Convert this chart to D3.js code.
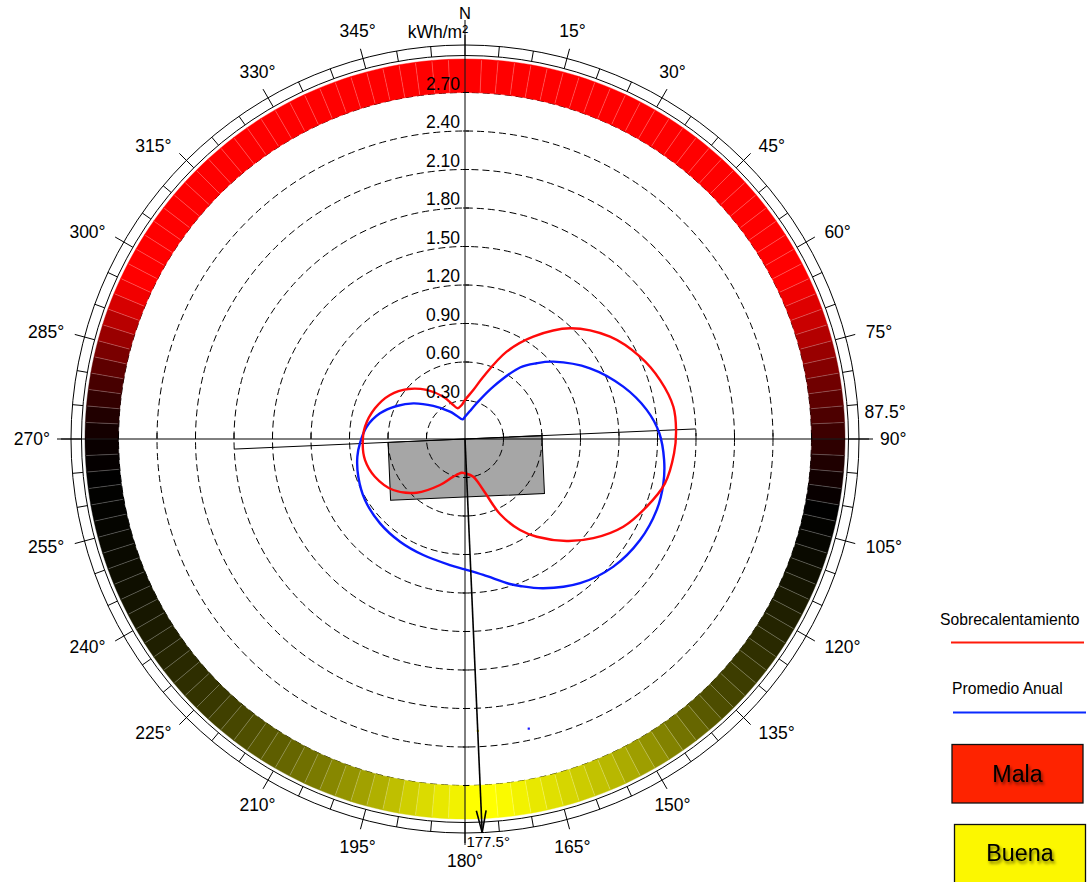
<!DOCTYPE html>
<html>
<head>
<meta charset="utf-8">
<script src="https://cdn.jsdelivr.net/npm/d3@7"></script>
<style>
  body { margin: 0; background: #fff; }
  svg { display: block; }
  text { font-family: "Liberation Sans", Arial, Helvetica, sans-serif; }
</style>
</head>
<body>
<svg id="chart" width="1087" height="882"></svg>
<script>
// ---- data -------------------------------------------------------------
// radial grid (kWh/m²)
const ringValues = [0.3, 0.6, 0.9, 1.2, 1.5, 1.8, 2.1, 2.4, 2.7];
const ringLabels = ["0.30", "0.60", "0.90", "1.20", "1.50", "1.80", "2.10", "2.40", "2.70"];

// compass labels every 15°
const compassAngles = [0, 15, 30, 45, 60, 75, 90, 105, 120, 135, 150, 165, 180, 195, 210, 225, 240, 255, 270, 285, 300, 315, 330, 345];
const compassLabels = ["N", "15°", "30°", "45°", "60°", "75°", "90°", "105°", "120°", "135°", "150°", "165°", "180°", "195°", "210°", "225°", "240°", "255°", "270°", "285°", "300°", "315°", "330°", "345°"];

// façade orientation
const facadeAngle = 87.5;
const facadeLabel = "87.5°";
const normalAngle = 177.5;
const normalLabel = "177.5°";
const facadeLineValue = 1.8;

// Sobrecalentamiento (red) – irradiation by orientation
const redAngles = [0, 9.6, 16.4, 25.5, 33.7, 43.5, 54.8, 64.8, 73.2, 81.2, 87.6, 93.9, 102.5, 110.4, 119.0, 127.7, 135.1, 143.7, 148.85, 155.0, 160.3, 167.6, 180, 185.6, 197.2, 208.5, 222, 234.6, 247.3, 258.1, 267.2, 277, 288.8, 300.4, 311.4, 322, 332.8, 341, 346.6, 354.5];
const redValues = [0.304, 0.387, 0.506, 0.754, 0.959, 1.19, 1.383, 1.507, 1.588, 1.643, 1.646, 1.633, 1.596, 1.511, 1.41, 1.264, 1.122, 0.945, 0.829, 0.645, 0.422, 0.301, 0.267, 0.264, 0.307, 0.408, 0.563, 0.686, 0.761, 0.796, 0.798, 0.785, 0.741, 0.678, 0.589, 0.485, 0.37, 0.28, 0.246, 0.266];

// Promedio Anual (blue)
const blueAngles = [0, 9.6, 18.1, 28.4, 37.6, 43.4, 48.8, 60.5, 71.7, 80.9, 88.3, 96, 102.6, 110.3, 120, 130.7, 141.4, 152.3, 159.5, 162.8, 172.3, 180, 186.8, 199.8, 212.3, 225.2, 238.6, 250.5, 260.7, 267.7, 277.1, 286.8, 295.8, 304.6, 316.2, 331.2, 339.7, 353.3];
const blueValues = [0.174, 0.219, 0.293, 0.464, 0.703, 0.813, 0.915, 1.119, 1.299, 1.434, 1.515, 1.56, 1.584, 1.593, 1.575, 1.525, 1.438, 1.314, 1.223, 1.183, 1.069, 1.016, 0.989, 0.961, 0.947, 0.933, 0.913, 0.882, 0.85, 0.819, 0.772, 0.692, 0.591, 0.489, 0.357, 0.243, 0.196, 0.154];

// single marks inside the grid
const markAngles = [167.6, 177.5];
const markValues = [2.31, 2.276];
const markColors = ["#1a1aff", "#d8d000"];

// quality band: one index per 2.5° sector (+1 = Mala, 0 = neutral, -1 = Buena)
const sectorStep = 2.5;
const bandIndex = [
  1, 1, 1, 1, 1, 1, 1, 1, 1, 1, 1, 1, 1, 1, 1, 1, 1, 1, 1, 1, 1, 1, 1, 1, 1, 1,
  0.94, 0.87, 0.79, 0.70, 0.60, 0.52, 0.44, 0.37, 0.30, 0.24, 0.18, 0.12, 0.07, 0.03,
  0, -0.01, -0.025, -0.04, -0.06, -0.08, -0.10, -0.12, -0.14, -0.16,
  -0.19, -0.21, -0.24, -0.27, -0.30, -0.35, -0.40, -0.45, -0.51, -0.57,
  -0.62, -0.67, -0.72, -0.76, -0.80, -0.84, -0.88, -0.91, -0.95, -0.98,
  -1, -1, -0.95, -0.91, -0.86, -0.81, -0.75, -0.69, -0.63, -0.58,
  -0.53, -0.48, -0.44, -0.40, -0.37, -0.34, -0.31, -0.28, -0.25, -0.22,
  -0.20, -0.18, -0.16, -0.14, -0.12, -0.105, -0.09, -0.075, -0.06, -0.05,
  -0.04, -0.03, -0.02, -0.012, -0.006, 0, 0.02, 0.04, 0.08, 0.13,
  0.20, 0.28, 0.37, 0.48, 0.60, 0.72, 0.84, 0.95,
  1, 1, 1, 1, 1, 1, 1, 1, 1, 1, 1, 1, 1, 1, 1, 1, 1, 1, 1, 1, 1, 1, 1, 1, 1, 1
];

// legend
const legendSeries = ["Sobrecalentamiento", "Promedio Anual"];
const legendSeriesColors = ["#ff1a0a", "#0a2aff"];
const legendClasses = ["Mala", "Buena"];
const legendClassColors = ["#fe2300", "#fcf700"];

// ---- layout -----------------------------------------------------------
const cx = 465, cy = 439;
const bandInner = 346.5, bandOuter = 380;
const tickInner = 383.5, tickOuter = 394, majorTickOuter = 404;
const labelRadius = 415;
const deg = Math.PI / 180;

const svg = d3.select("#chart");
svg.append("rect").attr("width", 1087).attr("height", 882).attr("fill", "#fff");

const defs = svg.append("defs");
const shadow = defs.append("filter").attr("id", "txtShadow")
  .attr("x", "-20%").attr("y", "-20%").attr("width", "140%").attr("height", "160%");
shadow.append("feDropShadow").attr("dx", 1.5).attr("dy", 2.5).attr("stdDeviation", 1.6)
  .attr("flood-color", "#000").attr("flood-opacity", 0.55);

const r = d3.scaleLinear().domain([0, 2.7]).range([0, bandInner]);
const polar = (a, rad) => [rad * Math.sin(a * deg), -rad * Math.cos(a * deg)];

const g = svg.append("g").attr("transform", `translate(${cx},${cy})`);

// building footprint, rotated with the façade
g.append("rect")
  .attr("x", -77).attr("y", 0).attr("width", 154).attr("height", 58)
  .attr("transform", `rotate(${facadeAngle - 90})`)
  .attr("fill", "#a6a6a6").attr("stroke", "#000").attr("stroke-width", 1);

// dashed grid circles
g.selectAll("circle.ring").data(ringValues).join("circle")
  .attr("class", "ring")
  .attr("r", d => r(d))
  .attr("fill", "none").attr("stroke", "#000").attr("stroke-width", 1)
  .attr("stroke-dasharray", "7,4");

// quality band
const color = d3.scaleLinear().domain([-1, 0, 1]).range(["#ffff00", "#000000", "#ff0000"]).clamp(true);
const sectorArc = d3.arc().innerRadius(bandInner).outerRadius(bandOuter);
g.selectAll("path.sector").data(bandIndex).join("path")
  .attr("class", "sector")
  .attr("d", (d, i) => sectorArc({ startAngle: i * sectorStep * deg, endAngle: (i + 1) * sectorStep * deg }))
  .attr("fill", d => color(d))
  .attr("stroke", d => color(d)).attr("stroke-width", 0.4);
g.selectAll("line.sep").data(bandIndex).join("line")
  .attr("class", "sep")
  .attr("x1", (d, i) => polar(i * sectorStep, bandInner + 1)[0])
  .attr("y1", (d, i) => polar(i * sectorStep, bandInner + 1)[1])
  .attr("x2", (d, i) => polar(i * sectorStep, bandOuter - 1)[0])
  .attr("y2", (d, i) => polar(i * sectorStep, bandOuter - 1)[1])
  .attr("stroke", "#fff").attr("stroke-opacity", 0.35).attr("stroke-width", 0.7);

// compass ring
g.append("circle").attr("r", tickInner).attr("fill", "none").attr("stroke", "#000").attr("stroke-width", 1);
g.append("circle").attr("r", tickOuter).attr("fill", "none").attr("stroke", "#000").attr("stroke-width", 1);
const tickAngles = d3.range(0, 360, 5);
g.selectAll("line.ctick").data(tickAngles).join("line")
  .attr("class", "ctick")
  .attr("x1", d => polar(d, tickInner)[0]).attr("y1", d => polar(d, tickInner)[1])
  .attr("x2", d => polar(d, d % 15 === 0 ? majorTickOuter : tickOuter)[0])
  .attr("y2", d => polar(d, d % 15 === 0 ? majorTickOuter : tickOuter)[1])
  .attr("stroke", "#000").attr("stroke-width", 1);

// main axes
g.append("line").attr("x1", -408).attr("y1", 0).attr("x2", 408).attr("y2", 0).attr("stroke", "#000").attr("stroke-width", 1);
g.append("line").attr("x1", 0).attr("y1", -419).attr("x2", 0).attr("y2", 406).attr("stroke", "#000").attr("stroke-width", 1);
// grid ticks along the axes
ringValues.forEach(v => {
  const rr = r(v);
  [-rr, rr].forEach(p => {
    g.append("line").attr("x1", -2).attr("x2", 4).attr("y1", p).attr("y2", p).attr("stroke", "#000").attr("stroke-width", 1);
    g.append("line").attr("x1", p).attr("x2", p).attr("y1", -6).attr("y2", 0).attr("stroke", "#000").attr("stroke-width", 1);
  });
});

// façade line
const fa = polar(facadeAngle, r(facadeLineValue)), fb = polar(facadeAngle + 180, r(facadeLineValue));
g.append("line").attr("x1", fb[0]).attr("y1", fb[1]).attr("x2", fa[0]).attr("y2", fa[1])
  .attr("stroke", "#000").attr("stroke-width", 1);

// series curves
const radial = d3.lineRadial()
  .angle(d => d[0] * deg)
  .radius(d => r(d[1]))
  .curve(d3.curveCatmullRomClosed.alpha(0.5));
g.append("path").datum(d3.zip(blueAngles, blueValues))
  .attr("d", radial).attr("fill", "none").attr("stroke", "#0a1aff").attr("stroke-width", 2.4);
g.append("path").datum(d3.zip(redAngles, redValues))
  .attr("d", radial).attr("fill", "none").attr("stroke", "#ff0a0a").attr("stroke-width", 2.4);

// single marks
markAngles.forEach((a, i) => {
  const p = polar(a, r(markValues[i]));
  g.append("rect").attr("x", p[0] - 1).attr("y", p[1] - 1).attr("width", 2.2).attr("height", 2.2).attr("fill", markColors[i]);
});

// normal arrow
const tip = polar(normalAngle, tickOuter);
g.append("line").attr("x1", 0).attr("y1", 0).attr("x2", tip[0]).attr("y2", tip[1])
  .attr("stroke", "#000").attr("stroke-width", 1.6);
[-1, 1].forEach(s => {
  const w = polar(normalAngle + s * 0.75, tickOuter - 22);
  g.append("line").attr("x1", tip[0]).attr("y1", tip[1]).attr("x2", w[0]).attr("y2", w[1])
    .attr("stroke", "#000").attr("stroke-width", 1.6);
});

// ring labels
g.selectAll("text.rlab").data(ringValues).join("text")
  .attr("class", "rlab")
  .attr("x", -5).attr("y", d => -r(d) - 3)
  .attr("text-anchor", "end").attr("font-size", 17.5).attr("fill", "#000")
  .text((d, i) => ringLabels[i]);

// compass labels: anchored on the side of the box that faces the ring
g.selectAll("text.clab").data(compassAngles).join("text")
  .attr("class", "clab")
  .attr("font-size", d => d === 0 ? 16.5 : 17.5).attr("fill", "#000")
  .text((d, i) => compassLabels[i])
  .each(function (d) {
    const fs = d === 0 ? 16.5 : 17.5;
    const cap = 0.716 * fs;
    const p = polar(d, d === 0 ? 419 : labelRadius);
    const t = d3.select(this);
    if (d < 45 || d > 315) {          // above the ring
      t.attr("text-anchor", "middle").attr("x", p[0]).attr("y", p[1] - 1.5);
    } else if (d > 135 && d < 225) {  // below the ring
      t.attr("text-anchor", "middle").attr("x", p[0]).attr("y", p[1] + cap + 0.5);
    } else if (d <= 135) {            // right side
      t.attr("text-anchor", "start").attr("x", p[0]).attr("y", p[1] + cap / 2);
    } else {                          // left side
      t.attr("text-anchor", "end").attr("x", p[0]).attr("y", p[1] + cap / 2);
    }
  });

// façade / normal labels
const fl = polar(facadeAngle, 400);
g.append("text").attr("x", fl[0]).attr("y", fl[1] - 4).attr("font-size", 17.5).text(facadeLabel);
g.append("text").attr("x", tip[0] + 6).attr("y", tip[1] + 14.5).attr("text-anchor", "middle").attr("font-size", 15).text(normalLabel);

// unit label
g.append("text").attr("x", 3).attr("y", -401.5).attr("text-anchor", "end").attr("font-size", 17.5).text("kWh/m²");

// ---- legend -----------------------------------------------------------
const legX = [940, 952], legTextY = [625, 694], legLineY = [642.5, 712.5], legLine = [[951, 1084], [953, 1086]];
legendSeries.forEach((s, i) => {
  svg.append("text").attr("x", legX[i]).attr("y", legTextY[i]).attr("font-size", 15.7).text(s);
  svg.append("line").attr("x1", legLine[i][0]).attr("x2", legLine[i][1])
    .attr("y1", legLineY[i]).attr("y2", legLineY[i])
    .attr("stroke", legendSeriesColors[i]).attr("stroke-width", 2.2);
});
const boxX = [952, 954.5], boxY = [744.5, 824.5], boxW = 131, boxH = 58.5, boxTextY = [781.5, 861];
legendClasses.forEach((c, i) => {
  svg.append("rect").attr("x", boxX[i]).attr("y", boxY[i]).attr("width", boxW).attr("height", boxH)
    .attr("fill", legendClassColors[i]).attr("stroke", "#111").attr("stroke-width", 1.3);
  svg.append("text").attr("x", boxX[i] + boxW / 2).attr("y", boxTextY[i])
    .attr("text-anchor", "middle").attr("font-size", 23.3).attr("fill", "#000")
    .attr("filter", "url(#txtShadow)").text(c);
});
</script>
</body>
</html>
